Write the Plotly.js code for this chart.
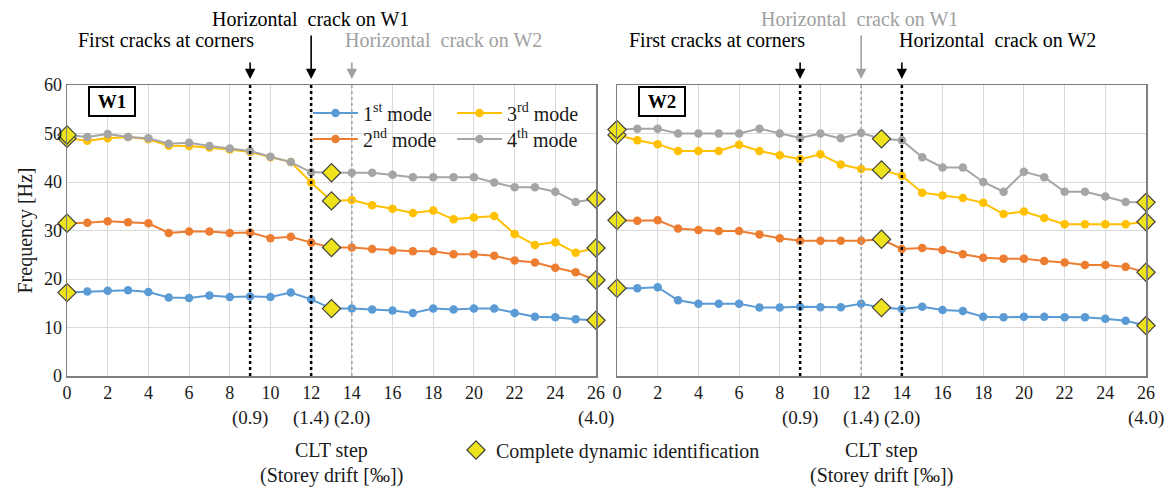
<!DOCTYPE html>
<html><head><meta charset="utf-8">
<script src="https://cdn.plot.ly/plotly-3.0.1.min.js"></script>
<style>html,body{margin:0;padding:0;background:#fff;}#chart{width:1168px;height:488px;}</style>
</head><body><div id="chart"></div>
<script>
const steps = [0,1,2,3,4,5,6,7,8,9,10,11,12,13,14,15,16,17,18,19,20,21,22,23,24,25,26];
const modeNames = ['1<sup>st</sup> mode','2<sup>nd</sup> mode','3<sup>rd</sup> mode','4<sup>th</sup> mode'];
const modeColors = ['#5B9BD5','#ED7D31','#FFC000','#A5A5A5'];

const w1Mode1 = [17.2,17.4,17.6,17.7,17.3,16.2,16.1,16.6,16.3,16.4,16.3,17.2,15.8,13.9,13.9,13.7,13.5,13.0,13.9,13.7,13.9,13.9,13.0,12.2,12.1,11.7,11.5];
const w1Mode2 = [31.5,31.6,31.9,31.7,31.5,29.5,29.8,29.8,29.5,29.6,28.4,28.7,27.5,26.5,26.5,26.2,25.9,25.7,25.7,25.1,25.1,24.8,23.8,23.4,22.3,21.4,19.8];
const w1Mode3 = [49.0,48.5,49.0,49.3,48.8,47.5,47.4,47.1,46.7,46.2,45.1,44.1,39.9,36.1,36.3,35.2,34.5,33.6,34.1,32.3,32.7,33.0,29.3,27.0,27.6,25.4,26.4];
const w1Mode4 = [49.7,49.3,49.9,49.3,49.0,47.9,48.1,47.4,46.9,46.4,45.2,44.1,42.0,41.9,41.9,41.9,41.5,41.0,41.0,41.0,41.0,39.9,38.9,38.9,38.0,35.9,36.5];

const w2Mode1 = [18.1,18.1,18.3,15.6,14.9,14.9,14.9,14.1,14.1,14.3,14.2,14.2,14.9,14.1,13.8,14.3,13.6,13.4,12.2,12.1,12.2,12.2,12.1,12.1,11.8,11.4,10.4];
const w2Mode2 = [32.1,32.0,32.1,30.4,30.1,29.9,29.9,29.2,28.4,27.9,27.9,27.9,27.9,28.2,26.2,26.4,26.0,25.1,24.4,24.2,24.2,23.7,23.4,22.9,22.9,22.5,21.4];
const w2Mode3 = [49.7,48.6,47.8,46.4,46.4,46.4,47.7,46.4,45.5,44.7,45.7,43.6,42.7,42.5,41.3,37.8,37.2,36.7,35.7,33.4,33.9,32.6,31.3,31.3,31.3,31.3,31.8];
const w2Mode4 = [50.8,51.0,51.0,50.0,50.0,50.0,50.0,51.0,50.0,49.1,50.0,49.0,50.1,48.9,48.6,45.1,43.0,43.0,40.0,38.0,42.1,41.0,38.0,38.0,37.0,35.9,35.8];

const idSteps = [0,13,26];
const idLabel = 'Complete dynamic identification';
const xTicks = [0,2,4,6,8,10,12,14,16,18,20,22,24,26];
const yTicks = [0,10,20,30,40,50,60];
const driftSteps = [9,12,14,26];
const driftLabels = ['(0.9)','(1.4)','(2.0)','(4.0)'];
const xTitleLines = ['CLT step','(Storey drift [‰])'];
const yTitle = 'Frequency [Hz]';

const eventsW1 = [9,12,14];
const eventsW2 = [9,12,14];
const eventMajorW1 = [true,true,false];
const eventMajorW2 = [true,false,true];

const FONT = 'Liberation Serif, Times New Roman, serif';
const TXT = '#1a1a1a';
const w1 = [w1Mode1,w1Mode2,w1Mode3,w1Mode4];
const w2 = [w2Mode1,w2Mode2,w2Mode3,w2Mode4];
const legendOf = ['legend','legend2','legend','legend2'];

const traces = [];
[[w1,'x','y'],[w2,'x2','y2']].forEach(([wall,xa,ya],wi)=>{
  wall.forEach((vals,m)=>{
    traces.push({x:steps,y:vals,xaxis:xa,yaxis:ya,type:'scatter',mode:'lines+markers',
      name:modeNames[m],line:{color:modeColors[m],width:2},marker:{color:modeColors[m],size:8.5},
      showlegend:wi===0,legend:legendOf[m],legendrank:m,cliponaxis:false,hoverinfo:'skip'});
  });
});
[[w1,'x','y'],[w2,'x2','y2']].forEach(([wall,xa,ya],wi)=>{
  const xs=[],ys=[];
  wall.forEach(vals=>{idSteps.forEach(s=>{xs.push(s);ys.push(vals[steps.indexOf(s)]);});});
  traces.push({x:xs,y:ys,xaxis:xa,yaxis:ya,type:'scatter',mode:'markers',name:idLabel,
    marker:{symbol:'diamond',size:14,color:'#EEE21C',line:{color:'#404040',width:1.2}},
    showlegend:wi===0,legend:'legend3',cliponaxis:false,hoverinfo:'skip'});
});

const axX = {range:[0,26],tickvals:xTicks,ticks:'',showgrid:true,gridcolor:'#D9D9D9',gridwidth:1,
  showline:true,linecolor:'#7F7F7F',linewidth:1.5,mirror:true,zeroline:false,
  tickfont:{family:FONT,size:18,color:TXT}};
const axY = {range:[0,60],tickvals:yTicks,ticks:'',showgrid:true,gridcolor:'#D9D9D9',gridwidth:1,
  showline:true,linecolor:'#7F7F7F',linewidth:1.5,mirror:true,zeroline:false,
  tickfont:{family:FONT,size:18,color:TXT}};

const shapes = [];
const annotations = [];
[[eventsW1,eventMajorW1,'x'],[eventsW2,eventMajorW2,'x2']].forEach(([ev,maj,xr])=>{
  ev.forEach((s,i)=>{
    shapes.push({type:'line',xref:xr,yref:'paper',x0:s,x1:s,y0:112/488,y1:403/488,
      line:{color:maj[i]?'#000':'#A0A0A0',width:maj[i]?2.5:1.5,dash:'dot'}});
  });
});
const arrowLenW1 = [18,45,18];
const arrowLenW2 = [18,45,18];
[[eventsW1,eventMajorW1,arrowLenW1,'x'],[eventsW2,eventMajorW2,arrowLenW2,'x2']].forEach(([ev,maj,len,xr])=>{
  ev.forEach((s,i)=>{
    annotations.push({xref:xr,yref:'paper',x:s,y:0.838,text:'',showarrow:true,axref:'pixel',ayref:'pixel',
      ax:0,ay:-len[i],arrowhead:2,arrowsize:1.3,arrowwidth:1.6,arrowcolor:maj[i]?'#000':'#A0A0A0'});
  });
});
const topTexts = [
  {x:310,y:19,text:'Horizontal  crack on W1',c:'#000'},
  {x:166,y:40,text:'First cracks at corners',c:'#000'},
  {x:443,y:40,text:'Horizontal  crack on W2',c:'#A0A0A0'},
  {x:860,y:19,text:'Horizontal  crack on W1',c:'#A0A0A0'},
  {x:717,y:40,text:'First cracks at corners',c:'#000'},
  {x:997,y:40,text:'Horizontal  crack on W2',c:'#000'}
];
topTexts.forEach(t=>annotations.push({xref:'paper',yref:'paper',x:t.x/1168,y:(488-t.y)/488,text:t.text,showarrow:false,
  xanchor:'center',yanchor:'middle',font:{family:FONT,size:20,color:t.c}}));
[['W1','x'],['W2','x2']].forEach(([lab,xr])=>annotations.push({xref:xr+' domain',yref:'paper',x:0.085,y:(488-102)/488,
  xanchor:'center',yanchor:'middle',
  text:'&nbsp;<b>'+lab+'</b>&nbsp;',showarrow:false,font:{family:FONT,size:19,color:'#000'},bordercolor:'#000',borderwidth:2,borderpad:3,bgcolor:'#fff'}));
['x','x2'].forEach(xr=>driftSteps.forEach((s,i)=>annotations.push({xref:xr,yref:'paper',x:s,y:(488-418)/488,
  xanchor:'center',yanchor:'middle',text:driftLabels[i],showarrow:false,font:{family:FONT,size:19,color:TXT}})));
['x','x2'].forEach(xr=>xTitleLines.forEach((t,i)=>annotations.push({xref:xr+' domain',yref:'paper',x:0.5,y:(488-(i?475:450))/488,
  xanchor:'center',yanchor:'middle',text:t,showarrow:false,font:{family:FONT,size:20,color:TXT}})));

const legBase = {orientation:'h',xanchor:'left',yanchor:'middle',bgcolor:'rgba(0,0,0,0)',
  font:{family:FONT,size:20,color:TXT},itemwidth:45,entrywidth:84,entrywidthmode:'pixels',tracegroupgap:0};
const layout = {
  width:1168,height:488,margin:{l:0,r:0,t:0,b:0},paper_bgcolor:'#fff',plot_bgcolor:'#fff',
  font:{family:FONT,color:TXT},
  xaxis:Object.assign({},axX,{domain:[67/1168,596/1168],anchor:'y'}),
  xaxis2:Object.assign({},axX,{domain:[617/1168,1146/1168],anchor:'y2'}),
  yaxis:Object.assign({},axY,{domain:[112/488,403/488],anchor:'x',
    title:{text:yTitle,font:{family:FONT,size:20,color:TXT},standoff:6}}),
  yaxis2:Object.assign({},axY,{domain:[112/488,403/488],anchor:'x2',showticklabels:false}),
  legend:Object.assign({},legBase,{x:308/1168,y:(488-113)/488}),
  legend2:Object.assign({},legBase,{x:308/1168,y:(488-139)/488}),
  legend3:{orientation:'h',x:456/1168,y:(488-450)/488,xanchor:'left',yanchor:'middle',bgcolor:'rgba(0,0,0,0)',
    font:{family:FONT,size:20,color:TXT},itemwidth:30},
  shapes:shapes,annotations:annotations
};
Plotly.newPlot('chart',traces,layout,{staticPlot:true});
</script></body></html>
